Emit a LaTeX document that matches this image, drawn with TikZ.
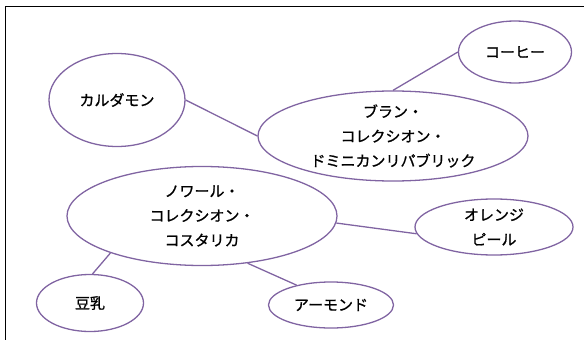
\documentclass[tikz,border=0pt]{standalone}
\usepackage{fontspec}
\newfontfamily\jpfont[FakeBold=1]{Noto Sans CJK JP}
\usepackage{xcolor}
\usetikzlibrary{shapes.geometric}
\definecolor{mapline}{RGB}{128,100,162}

\begin{document}
\begin{tikzpicture}[
  x=0.03cm, y=-0.03cm,
  every node/.style={ellipse, draw=mapline, line width=1.1pt, fill=white, align=center, inner sep=0pt, font=\jpfont\fontsize{12.8}{21}\selectfont},
  link/.style={draw=mapline, line width=1.1pt}
]
\clip (0,0) rectangle (584,340);
\draw[line width=1.5pt] (5.5,6.5) rectangle (600,360);

% Nodes
\node[minimum width=8.1cm, minimum height=2.7cm] (bran) at (393,136) {ブラン・\\コレクシオン・\\ドミニカンリパブリック};
\node[minimum width=8.1cm, minimum height=2.97cm] (noir) at (202,216) {ノワール・\\コレクシオン・\\コスタリカ};

\node[minimum width=3.39cm, minimum height=1.86cm] (coffee) at (515,52) {コーヒー};
\node[minimum width=4.08cm, minimum height=2.79cm] (cardamom) at (117,100) {カルダモン};
\node[minimum width=4.74cm, minimum height=1.68cm] (orange) at (494,227) {オレンジ\\ピール};
\node[minimum width=3.21cm, minimum height=1.71cm] (soymilk) at (90,303) {豆乳};
\node[minimum width=3.75cm, minimum height=1.38cm] (almond) at (331,305) {アーモンド};

% Lines
\draw[link] (cardamom.east) -- (bran.west);
\draw[link] (bran.north) -- (coffee.west);
\draw[link] (noir.357) -- (orange.185);
\draw[link] (noir.202) -- (soymilk.85);
\draw[link] (noir.314) -- (almond.150);

\end{tikzpicture}
\end{document}
